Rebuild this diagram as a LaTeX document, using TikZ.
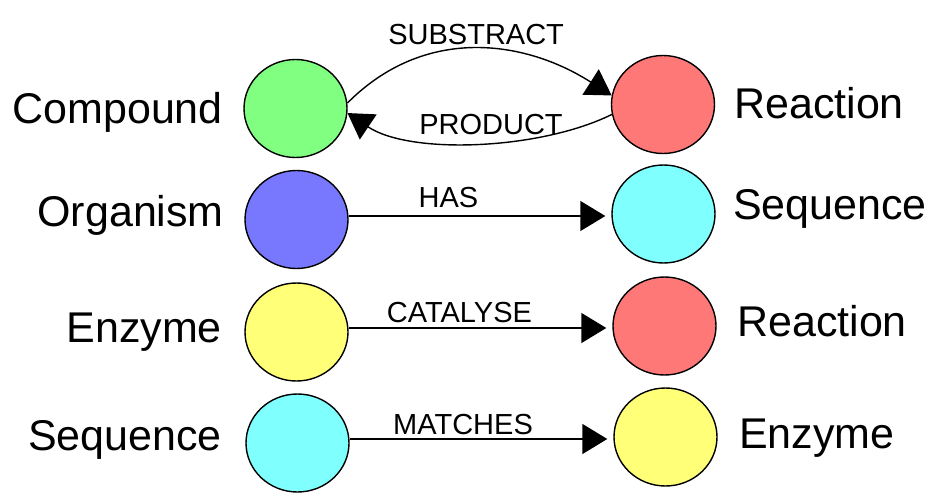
\documentclass[tikz,border=0pt]{standalone}
\usepackage{fontspec}
\setmainfont{Liberation Sans}
\usetikzlibrary{shapes.geometric,arrows.meta,calc}
\definecolor{cgreen}{RGB}{128,255,128}
\definecolor{cred}{RGB}{255,120,120}
\definecolor{cblue}{RGB}{120,120,255}
\definecolor{ccyan}{RGB}{128,255,255}
\definecolor{cyellow}{RGB}{255,255,120}
\tikzset{
  ent/.style={ellipse, draw=black, line width=1.4pt, minimum width=103pt, minimum height=98pt, inner sep=0pt},
  big/.style={inner sep=0pt, font=\fontsize{43}{50}\selectfont},
  rel/.style={inner sep=0pt, font=\fontsize{29}{34}\selectfont, anchor=base},
  arr/.style={line width=1.4pt, -{Triangle[length=25pt,width=30pt]}},
}
\begin{document}
\begin{tikzpicture}[x=1pt,y=-1pt]
\useasboundingbox (0,0) rectangle (937,503);
% entities
\node[ent, fill=cgreen]  (c1) at (295.5,108.5) {};
\node[ent, fill=cred]    (r1) at (663,104.5) {};
\node[ent, fill=cblue]   (o)  at (296.5,219.5) {};
\node[ent, fill=ccyan]   (s1) at (663.5,214) {};
\node[ent, fill=cyellow] (e1) at (296.5,332) {};
\node[ent, fill=cred]    (r2) at (664.5,326) {};
\node[ent, fill=ccyan]   (s2) at (297.5,443) {};
\node[ent, fill=cyellow] (e2) at (665.5,437) {};
% labels
\node[big, anchor=base east] (lc1) at (223,123) {Compound};
\node[big, anchor=base west] (lr1) at (734,118) {Reaction};
\node[big, anchor=base east] (lo)  at (224,226) {Organism};
\node[big, anchor=base west] (ls1) at (733,219) {Sequence};
\node[big, anchor=base east] (le1) at (222,342) {Enzyme};
\node[big, anchor=base west] (lr2) at (737,336) {Reaction};
\node[big, anchor=base east] (ls2) at (222,450) {Sequence};
\node[big, anchor=base west] (le2) at (739,448) {Enzyme};
% curved relations
\draw[arr] (c1.6) .. controls (425,25) and (525,40) .. (r1.170)
  node[rel, pos=0.5, yshift=5pt] (lsub) {SUBSTRACT};
\draw[arr] (r1.191) .. controls (540,150) and (410,155) .. (c1.355)
  node[rel, pos=0.45, yshift=8pt] (lprod) {PRODUCT};
% straight relations
\draw[arr, shorten >=6pt] ([yshift=3.5pt]o.east) -- ([yshift=3.5pt]o.east -| s1.west)
  node[rel, pos=0.38, yshift=9pt] (lhas) {HAS};
\draw[arr, shorten >=6pt] ([yshift=4pt]e1.east) -- ([yshift=4pt]e1.east -| r2.west)
  node[rel, pos=0.42, yshift=6pt] (lcat) {CATALYSE};
\draw[arr, shorten >=6pt] ([yshift=4pt]s2.east) -- ([yshift=4pt]s2.east -| e2.west)
  node[rel, pos=0.43, yshift=5pt] (lmat) {MATCHES};
\end{tikzpicture}
\end{document}
